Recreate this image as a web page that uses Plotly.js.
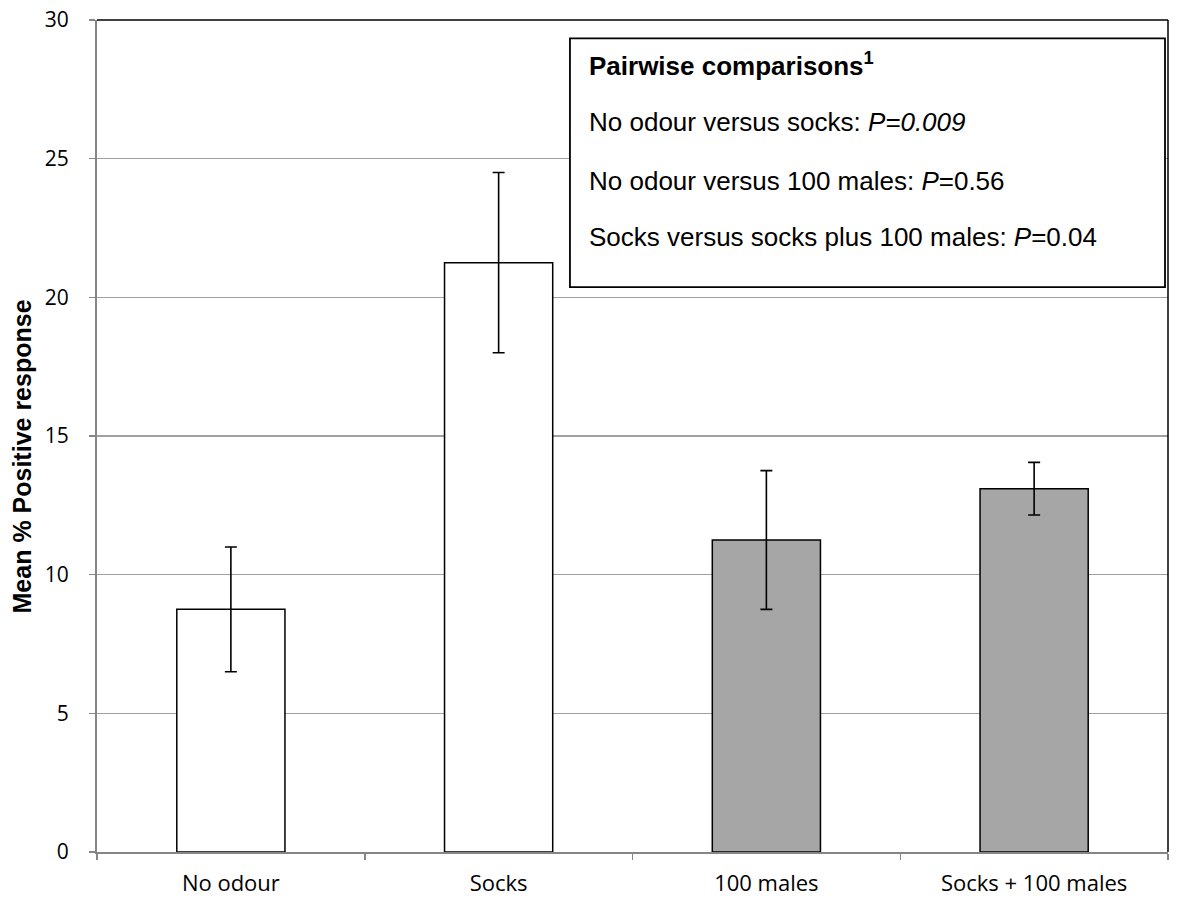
<!DOCTYPE html>
<html>
<head>
<meta charset="utf-8">
<script src="https://cdn.plot.ly/plotly-3.0.1.min.js"></script>
<style>html,body{margin:0;padding:0;background:#fff;}#chart{width:1178px;height:899px;}</style>
</head>
<body>
<div id="chart"></div>
<script>
const categories = ["No odour", "Socks", "100 males", "Socks + 100 males"];
const meanResponse = [8.75, 21.25, 11.25, 13.1];
const errorValues = [2.25, 3.25, 2.5, 0.95];
const barColors = ["#ffffff", "#ffffff", "#a6a6a6", "#a6a6a6"];
const yTicks = [0, 5, 10, 15, 20, 25, 30];
const yTitle = "Mean % Positive response";
const boxTitle = "Pairwise comparisons<sup>1</sup>";
const boxLines = [
  "No odour versus socks: <i>P=0.009</i>",
  "No odour versus 100 males: <i>P</i>=0.56",
  "Socks versus socks plus 100 males: <i>P</i>=0.04"
];

const trace = {
  type: "bar",
  x: categories,
  y: meanResponse,
  marker: {color: barColors, line: {color: "#000000", width: 1.5}},
  error_y: {type: "data", array: errorValues, visible: true, color: "#000000", thickness: 1.6, width: 6},
  hoverinfo: "none"
};

const boxX0 = 0.4416, boxX1 = 0.9972, boxY0 = 0.679, boxY1 = 0.978;
const lineYs = [0.947, 0.877, 0.807, 0.739];
const textFont = {family: "Liberation Sans, Arial", size: 26, color: "#000"};
const annotations = [];
annotations.push({xref: "paper", yref: "paper", x: 0.4575, y: lineYs[0], xanchor: "left", yanchor: "middle",
  text: "<b>" + boxTitle + "</b>", showarrow: false, font: {family: "Liberation Sans, Arial", size: 26, color: "#000"}});
boxLines.forEach((t, i) => {
  annotations.push({xref: "paper", yref: "paper", x: 0.4575, y: lineYs[i + 1], xanchor: "left", yanchor: "middle",
    text: t, showarrow: false, font: textFont});
});
annotations.push({xref: "paper", yref: "paper", x: -0.0705, y: 0.476, xanchor: "center", yanchor: "middle",
  textangle: -90, text: "<b>" + yTitle + "</b>", showarrow: false,
  font: {family: "Liberation Sans, Arial", size: 25, color: "#000"}});

const layout = {
  width: 1178, height: 899,
  margin: {l: 97, r: 10, t: 20, b: 47},
  paper_bgcolor: "#ffffff", plot_bgcolor: "#ffffff",
  showlegend: false,
  bargap: 0.596,
  font: {family: "Open Sans, sans-serif", size: 21, color: "#000"},
  xaxis: {
    type: "category",
    showline: true, linecolor: "#868686", linewidth: 2,
    ticks: "outside", tickson: "boundaries", ticklen: 6, tickcolor: "#868686", tickwidth: 1.5,
    showgrid: false, zeroline: false,
    tickfont: {family: "Open Sans, sans-serif", size: 22, color: "#000"},
    ticklabelstandoff: 11,
    automargin: false
  },
  yaxis: {
    range: [0, 30], tickvals: yTicks, ticktext: yTicks.map(String),
    showline: true, linecolor: "#868686", linewidth: 2,
    ticks: "outside", ticklen: 6, tickcolor: "#868686", tickwidth: 1.5,
    showgrid: true, gridcolor: "#a0a0a0", gridwidth: 1.5,
    zeroline: false,
    tickfont: {family: "Open Sans, sans-serif", size: 21, color: "#000"},
    ticklabelstandoff: 16,
    automargin: false
  },
  shapes: [
    {type: "line", xref: "paper", yref: "paper", x0: 0, x1: 1, y0: 1, y1: 1, line: {color: "#000", width: 1.5}},
    {type: "line", xref: "paper", yref: "paper", x0: 1, x1: 1, y0: 0, y1: 1, line: {color: "#000", width: 1.5}},
    {type: "rect", xref: "paper", yref: "paper", x0: boxX0, x1: boxX1, y0: boxY0, y1: boxY1,
      line: {color: "#000", width: 1.8}, fillcolor: "#ffffff", layer: "above"}
  ],
  annotations: annotations
};

Plotly.newPlot("chart", [trace], layout, {displayModeBar: false, staticPlot: true});
</script>
</body>
</html>
